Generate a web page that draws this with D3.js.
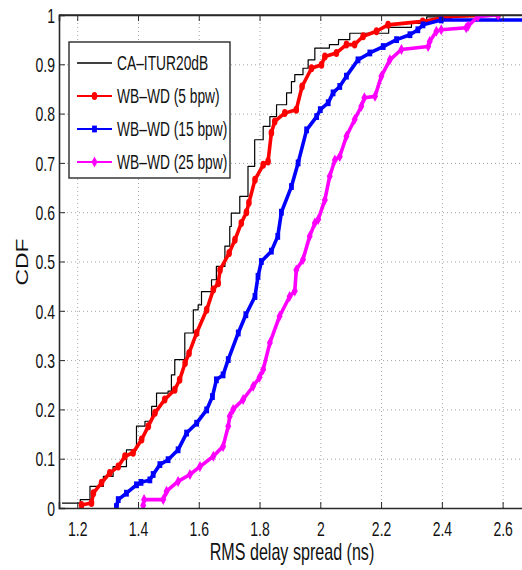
<!DOCTYPE html>
<html>
<head>
<meta charset="utf-8">
<script src="https://cdn.jsdelivr.net/npm/d3@7"></script>
<style>
body{margin:0;background:#fff;}
text{font-family:"Liberation Sans",Arial,sans-serif;fill:#111;}
</style>
</head>
<body>
<div id="chart"></div>
<script>
// CDF values
var caX = [1.15,1.21,1.242,1.286,1.318,1.362,1.395,1.423,1.445,1.461,1.499,1.51,1.521,1.554,1.582,1.598,1.609,1.642,1.658,1.686,1.702,1.707,1.735,1.762,1.784,1.812,1.834,1.856,1.889,1.905,1.916,1.943,1.96,1.982,2.03,2.06,2.097,2.225,2.30,2.35,2.45];
var caF = [0.01,0.017,0.044,0.064,0.084,0.118,0.166,0.176,0.206,0.233,0.237,0.27,0.301,0.355,0.402,0.412,0.439,0.463,0.49,0.531,0.571,0.598,0.632,0.693,0.747,0.774,0.794,0.818,0.842,0.865,0.879,0.892,0.909,0.933,0.94,0.95,0.963,0.975,0.983,0.996,1.0];

var wd5X = [1.214,1.247,1.253,1.28,1.307,1.335,1.357,1.384,1.412,1.434,1.456,1.488,1.521,1.537,1.555,1.568,1.593,1.626,1.648,1.664,1.67,1.70,1.719,1.74,1.757,1.765,1.785,1.812,1.828,1.839,1.85,1.883,1.921,1.94,1.971,2.004,2.015,2.053,2.086,2.113,2.141,2.185,2.223,2.337,2.426,2.585];
var wd5F = [0.006,0.01,0.03,0.051,0.071,0.084,0.105,0.112,0.139,0.166,0.193,0.22,0.24,0.26,0.294,0.314,0.355,0.402,0.443,0.456,0.483,0.517,0.544,0.578,0.60,0.619,0.666,0.696,0.703,0.761,0.784,0.801,0.808,0.855,0.892,0.899,0.916,0.923,0.94,0.94,0.957,0.967,0.98,0.987,0.997,1.0];

var wd15X = [1.329,1.335,1.362,1.395,1.41,1.439,1.45,1.472,1.499,1.532,1.56,1.593,1.626,1.645,1.658,1.68,1.697,1.73,1.755,1.785,1.795,1.806,1.839,1.86,1.872,1.905,1.927,1.955,1.988,2.0,2.026,2.042,2.064,2.086,2.124,2.163,2.207,2.251,2.295,2.321,2.338,2.398,2.70];
var wd15F = [0.003,0.017,0.03,0.047,0.052,0.057,0.068,0.088,0.098,0.118,0.152,0.172,0.199,0.226,0.26,0.27,0.301,0.355,0.392,0.429,0.47,0.5,0.521,0.551,0.60,0.652,0.70,0.767,0.794,0.808,0.822,0.842,0.855,0.876,0.909,0.923,0.936,0.95,0.96,0.97,0.98,0.99,0.99];

var wd25X = [1.417,1.42,1.483,1.494,1.532,1.571,1.604,1.648,1.68,1.697,1.702,1.713,1.746,1.779,1.80,1.812,1.834,1.866,1.899,1.916,1.921,1.943,1.965,1.982,1.993,2.015,2.031,2.048,2.064,2.086,2.113,2.135,2.145,2.18,2.201,2.229,2.267,2.355,2.36,2.382,2.398,2.48,2.486,2.519,2.585];
var wd25F = [0.005,0.017,0.017,0.034,0.054,0.068,0.084,0.105,0.125,0.166,0.186,0.20,0.22,0.247,0.265,0.281,0.335,0.389,0.429,0.44,0.483,0.504,0.551,0.578,0.585,0.625,0.673,0.706,0.713,0.754,0.788,0.815,0.832,0.835,0.876,0.909,0.93,0.936,0.946,0.967,0.97,0.974,0.977,0.997,1.0];

var seriesNames = ["CA\u2013ITUR20dB","WB\u2013WD (5 bpw)","WB\u2013WD (15 bpw)","WB\u2013WD (25 bpw)"];
var xTicks = [1.2,1.4,1.6,1.8,2,2.2,2.4,2.6];
var yTicks = [0,0.1,0.2,0.3,0.4,0.5,0.6,0.7,0.8,0.9,1];

var series = [
  {name: seriesNames[0], xs: caX, fs: caF, color: "#000", width: 1.2, marker: null, curve: d3.curveStepAfter},
  {name: seriesNames[1], xs: wd5X, fs: wd5F, color: "#ff0000", width: 3.6, marker: "dot", curve: d3.curveLinear},
  {name: seriesNames[2], xs: wd15X, fs: wd15F, color: "#0000ff", width: 3.6, marker: "square", curve: d3.curveLinear},
  {name: seriesNames[3], xs: wd25X, fs: wd25F, color: "#ff00ff", width: 3.6, marker: "diamond", curve: d3.curveLinear}
];

var W = 522, H = 570;
var m = {left: 59, top: 15};
var pw = 474, ph = 493;
var sx = 0.7; // narrow look of the lettering

var svg = d3.select("#chart").append("svg")
  .attr("width", W).attr("height", H);

var x = d3.scaleLinear().domain([1.14, 2.70]).range([0, pw]);
var y = d3.scaleLinear().domain([0, 1]).range([ph, 0]);

svg.append("defs").append("clipPath").attr("id", "clip")
  .append("rect").attr("width", pw).attr("height", ph);

var g = svg.append("g").attr("transform", "translate(" + m.left + "," + m.top + ")");

// grid
g.append("g").attr("class", "grid")
  .attr("transform", "translate(0," + ph + ")")
  .call(d3.axisBottom(x).tickValues(xTicks).tickSize(-ph).tickFormat(""))
  .call(function(s){ s.select(".domain").remove(); });
g.append("g").attr("class", "grid")
  .call(d3.axisLeft(y).tickValues(yTicks).tickSize(-pw).tickFormat(""))
  .call(function(s){ s.select(".domain").remove(); });
g.selectAll(".grid line")
  .attr("stroke", "#a5a5a5").attr("stroke-width", 1).attr("stroke-dasharray", "1,3");

// curves
var plot = g.append("g").attr("clip-path", "url(#clip)");

function drawMarker(sel, type, color) {
  if (type == "dot") {
    sel.append("ellipse").attr("rx", 2.8).attr("ry", 4).attr("fill", color);
  } else if (type == "square") {
    sel.append("rect").attr("x", -2.4).attr("y", -3.4).attr("width", 4.8).attr("height", 6.8)
      .attr("fill", color);
  } else if (type == "diamond") {
    sel.append("path").attr("d", "M0,-5.5L3,0L0,5.5L-3,0Z").attr("fill", color);
  }
}

series.forEach(function(s) {
  var pts = s.xs.map(function(v, i){ return [v, s.fs[i]]; });
  var line = d3.line()
    .x(function(d){ return x(d[0]); })
    .y(function(d){ return y(d[1]); })
    .curve(s.curve);
  plot.append("path").datum(pts)
    .attr("fill", "none")
    .attr("stroke", s.color)
    .attr("stroke-width", s.width)
    .attr("stroke-linejoin", "round")
    .attr("d", line);
  if (s.marker) {
    plot.selectAll(null).data(pts).enter().append("g")
      .attr("transform", function(d){ return "translate(" + x(d[0]) + "," + y(d[1]) + ")"; })
      .each(function(){ drawMarker(d3.select(this), s.marker, s.color); });
  }
});

// axes
var xAxis = g.append("g").attr("transform", "translate(0," + ph + ")")
  .call(d3.axisBottom(x).tickValues(xTicks).tickSize(-6).tickPadding(14).tickFormat(d3.format("")));
var yAxis = g.append("g")
  .call(d3.axisLeft(y).tickValues(yTicks).tickSize(-6).tickPadding(4).tickFormat(d3.format("")));
g.append("g").call(d3.axisTop(x).tickValues(xTicks).tickSize(-6).tickFormat(""));

g.selectAll(".domain").attr("stroke", "#2a2a2a").attr("stroke-width", 1.6);
g.selectAll(".tick line").filter(function(){ return this.parentNode.parentNode.getAttribute("class") != "grid"; })
  .attr("stroke", "#2a2a2a");

xAxis.selectAll("text")
  .attr("font-size", 20).attr("font-family", null)
  .attr("transform", "scale(" + sx + ",1)");
yAxis.selectAll("text")
  .attr("font-size", 20).attr("font-family", null)
  .attr("x", 0).attr("dy", "0.36em")
  .attr("transform", "translate(-4,0) scale(" + sx + ",1)");

// top line runs to the edge of the picture
g.append("line").attr("x1", 0).attr("x2", pw).attr("y1", 0).attr("y2", 0)
  .attr("stroke", "#2a2a2a").attr("stroke-width", 1.6);

// axis titles
svg.append("text")
  .attr("transform", "translate(292,560) scale(" + sx + ",1)")
  .attr("text-anchor", "middle").attr("font-size", 23)
  .text("RMS delay spread (ns)");
svg.append("text")
  .attr("transform", "translate(28,262) rotate(-90) scale(1," + sx + ")")
  .attr("text-anchor", "middle").attr("font-size", 23)
  .text("CDF");

// legend
var lg = svg.append("g").attr("transform", "translate(69,42)");
lg.append("rect").attr("width", 161).attr("height", 136)
  .attr("fill", "#fff").attr("stroke", "#2a2a2a").attr("stroke-width", 1.4);

series.forEach(function(s, i) {
  var row = lg.append("g").attr("transform", "translate(0," + (21 + i * 33) + ")");
  row.append("line").attr("x1", 8).attr("x2", 43).attr("y1", 0).attr("y2", 0)
    .attr("stroke", s.color).attr("stroke-width", s.marker ? 2.2 : 1.4);
  if (s.marker) {
    var mk = row.append("g").attr("transform", "translate(25.5,0)");
    drawMarker(mk, s.marker, s.color);
  }
  row.append("text")
    .attr("transform", "translate(48,0) scale(" + sx + ",1)")
    .attr("dy", "0.36em").attr("font-size", 19.7)
    .text(s.name);
});
</script>
</body>
</html>
